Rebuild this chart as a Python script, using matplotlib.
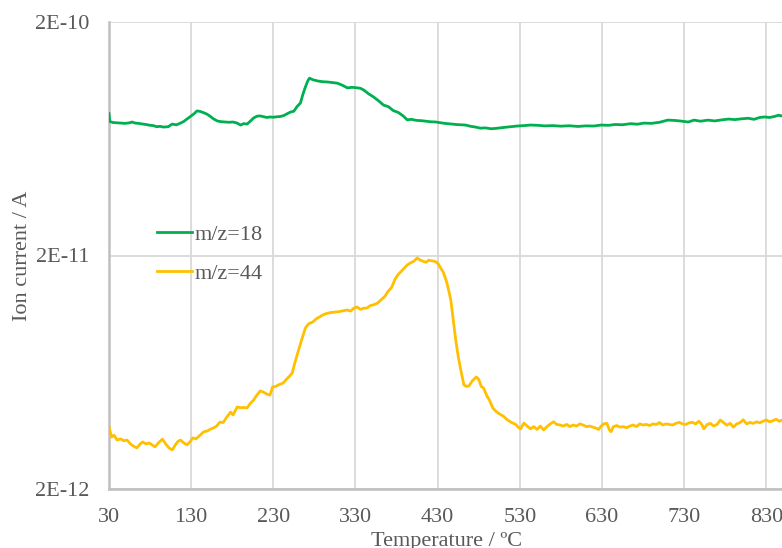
import numpy as np
import matplotlib
matplotlib.use("Agg")
import matplotlib.pyplot as plt
from matplotlib.ticker import FixedLocator, FixedFormatter, NullLocator

# ---- data: (temperature in ºC, ion current in units of 1e-11 A) ----
mz18 = [(30, 8.10), (31, 7.50), (35, 7.42), (40, 7.40), (45, 7.38), (50, 7.36), (55, 7.40), (58, 7.46),
        (62, 7.38), (66, 7.36), (71, 7.31), (75, 7.28), (80, 7.22), (84, 7.20), (88, 7.12), (92, 7.15),
        (96, 7.10), (102, 7.12), (107, 7.31), (112, 7.25), (117, 7.38), (121, 7.50), (125, 7.68),
        (130, 7.92), (134, 8.12), (137, 8.32), (141, 8.28), (145, 8.18), (149, 8.07), (153, 7.90),
        (157, 7.70), (162, 7.53), (167, 7.48), (172, 7.46), (176, 7.44), (181, 7.46), (186, 7.38),
        (190, 7.24), (194, 7.34), (198, 7.31), (202, 7.52), (206, 7.76), (210, 7.90), (214, 7.92),
        (218, 7.86), (222, 7.80), (226, 7.84), (230, 7.82), (235, 7.86), (239, 7.88), (243, 7.96),
        (247, 8.10), (251, 8.23), (255, 8.30), (259, 8.70), (263, 9.00), (266, 9.80), (269, 10.53),
        (272, 11.20), (274, 11.50), (278, 11.32), (284, 11.18), (290, 11.10), (296, 11.07), (302, 11.00),
        (308, 10.94), (314, 10.72), (320, 10.45), (326, 10.50), (332, 10.45), (336, 10.40), (340, 10.23),
        (346, 9.85), (352, 9.55), (358, 9.20), (364, 8.82), (370, 8.68), (376, 8.35), (382, 8.20),
        (388, 7.92), (393, 7.62), (398, 7.66), (404, 7.58), (410, 7.56), (416, 7.52), (421, 7.48),
        (428, 7.46), (434, 7.40), (440, 7.35), (446, 7.32), (452, 7.28), (458, 7.26), (464, 7.24),
        (470, 7.15), (476, 7.10), (482, 7.02), (488, 7.04), (495, 6.98), (500, 7.00), (507, 7.05),
        (515, 7.10), (527, 7.17), (535, 7.20), (543, 7.24), (552, 7.22), (560, 7.18), (570, 7.20),
        (580, 7.16), (590, 7.19), (601, 7.14), (610, 7.18), (620, 7.17), (629, 7.24), (638, 7.22),
        (646, 7.28), (655, 7.26), (665, 7.34), (673, 7.30), (681, 7.38), (690, 7.36), (700, 7.44),
        (710, 7.60), (718, 7.58), (726, 7.53), (735, 7.46), (742, 7.60), (750, 7.52), (759, 7.60),
        (767, 7.54), (776, 7.62), (784, 7.68), (792, 7.64), (800, 7.70), (808, 7.74), (815, 7.66),
        (822, 7.80), (828, 7.84), (834, 7.80), (840, 7.88), (845, 7.98), (848, 7.92), (850, 7.96)]

# (temperature in ºC, ion current in units of 1e-12 A)
mz44 = [(30, 3.70), (31, 3.58), (33, 3.34), (36, 3.40), (40, 3.24), (44, 3.28), (48, 3.22), (52, 3.24),
        (56, 3.12), (60, 3.05), (64, 3.00), (68, 3.12), (71, 3.18), (75, 3.12), (79, 3.15), (83, 3.08),
        (86, 3.03), (90, 3.15), (95, 3.27), (99, 3.12), (103, 3.00), (107, 2.94), (111, 3.10), (114, 3.20),
        (117, 3.24), (121, 3.15), (125, 3.09), (129, 3.20), (132, 3.31), (136, 3.28), (140, 3.38),
        (145, 3.51), (150, 3.55), (154, 3.62), (157, 3.65), (161, 3.72), (165, 3.87), (169, 3.85),
        (173, 4.05), (178, 4.27), (181, 4.15), (184, 4.35), (186, 4.49), (190, 4.46), (194, 4.47),
        (198, 4.45), (202, 4.65), (206, 4.81), (210, 5.05), (214, 5.26), (218, 5.20), (222, 5.10),
        (226, 5.05), (229, 5.47), (233, 5.50), (237, 5.60), (242, 5.69), (246, 5.90), (250, 6.10),
        (253, 6.28), (256, 6.90), (260, 7.72), (264, 8.60), (269, 9.78), (273, 10.20), (278, 10.38),
        (282, 10.70), (286, 10.90), (290, 11.12), (295, 11.30), (300, 11.40), (305, 11.45), (310, 11.50),
        (315, 11.60), (320, 11.69), (324, 11.55), (328, 11.90), (332, 12.04), (336, 11.75), (340, 11.90),
        (344, 11.92), (348, 12.20), (352, 12.30), (357, 12.52), (362, 13.00), (366, 13.40), (369, 13.96),
        (374, 14.60), (378, 15.80), (382, 16.60), (385, 17.00), (389, 17.60), (393, 18.22), (397, 18.60),
        (401, 18.90), (405, 19.52), (409, 19.10), (413, 18.85), (416, 18.70), (419, 19.10), (422, 19.00),
        (426, 18.90), (430, 18.58), (434, 17.60), (437, 16.90), (441, 15.40), (444, 13.90), (446, 12.90),
        (449, 10.60), (452, 8.69), (455, 7.40), (458, 6.50), (462, 5.58), (465, 5.50), (468, 5.52),
        (472, 5.80), (477, 6.04), (480, 5.90), (483, 5.50), (486, 5.41), (490, 5.00), (493, 4.81),
        (497, 4.45), (501, 4.30), (505, 4.20), (510, 4.10), (515, 3.95), (520, 3.85), (525, 3.78),
        (528, 3.68), (531, 3.62), (535, 3.83), (539, 3.72), (543, 3.62), (547, 3.70), (551, 3.60),
        (555, 3.72), (559, 3.58), (563, 3.70), (567, 3.80), (571, 3.88), (575, 3.78), (579, 3.76),
        (583, 3.72), (587, 3.78), (591, 3.70), (595, 3.76), (599, 3.72), (603, 3.80), (607, 3.76),
        (611, 3.70), (615, 3.72), (619, 3.68), (623, 3.64), (626, 3.60), (629, 3.72), (632, 3.80),
        (636, 3.82), (639, 3.58), (641, 3.52), (644, 3.70), (648, 3.74), (652, 3.68), (656, 3.70),
        (660, 3.66), (664, 3.72), (668, 3.76), (672, 3.70), (676, 3.80), (680, 3.76), (684, 3.78),
        (688, 3.74), (692, 3.80), (696, 3.78), (700, 3.85), (704, 3.76), (708, 3.80), (712, 3.78),
        (716, 3.76), (720, 3.82), (724, 3.86), (728, 3.80), (732, 3.78), (736, 3.84), (740, 3.86),
        (744, 3.80), (748, 3.90), (751, 3.80), (754, 3.62), (758, 3.78), (762, 3.82), (766, 3.72),
        (770, 3.78), (774, 3.95), (778, 3.85), (782, 3.75), (786, 3.82), (790, 3.68), (794, 3.80),
        (798, 3.85), (802, 3.96), (806, 3.80), (810, 3.86), (814, 3.82), (818, 3.88), (822, 3.84),
        (826, 3.90), (830, 3.95), (834, 3.88), (838, 3.92), (842, 3.98), (846, 3.90), (850, 3.96)]

series_labels = ["m/z=18", "m/z=44"]
x_ticks = [30, 130, 230, 330, 430, 530, 630, 730, 830]
y_ticks = [2e-12, 2e-11, 2e-10]
y_tick_labels = ["2E-12", "2E-11", "2E-10"]
x_label = "Temperature / ºC"
y_label = "Ion current / A"

t18 = np.array([p[0] for p in mz18], dtype=float)
v18 = np.array([p[1] for p in mz18]) * 1e-11
t44 = np.array([p[0] for p in mz44], dtype=float)
v44 = np.array([p[1] for p in mz44]) * 1e-12

# ---- style ----
plt.rcParams['font.family'] = ['Liberation Serif', 'DejaVu Serif']
txt = '#595959'
green = '#00B050'
yellow = '#FFC000'

fig = plt.figure(figsize=(7.82, 5.48), dpi=100)
ax = fig.add_axes([109/782, 1 - 489/548, 1 - 109/782 + 0.002, (489 - 22)/548])

ax.plot(t18, v18, color=green, lw=2.0, label=series_labels[0], zorder=3)
ax.plot(t44, v44, color=yellow, lw=2.0, label=series_labels[1], zorder=3)

ax.set_yscale('log')
ax.set_ylim(2e-12, 2e-10)
ax.set_xlim(30, 851)
ax.yaxis.set_major_locator(FixedLocator(y_ticks))
ax.yaxis.set_major_formatter(FixedFormatter(y_tick_labels))
ax.yaxis.set_minor_locator(NullLocator())
ax.xaxis.set_major_locator(FixedLocator(x_ticks))
ax.xaxis.set_minor_locator(NullLocator())

ax.grid(True, color='#D9D9D9', lw=1.3, zorder=0)
ax.set_axisbelow(True)
for s in ['top', 'right']:
    ax.spines[s].set_visible(False)
for s in ['left', 'bottom']:
    ax.spines[s].set_color('#BFBFBF')
    ax.spines[s].set_linewidth(1.8)
ax.tick_params(axis='both', length=0, labelsize=16, labelcolor=txt)
ax.tick_params(axis='y', pad=14)
ax.tick_params(axis='x', pad=14)

ax.set_xlabel(x_label, fontsize=16, color=txt, labelpad=3)
ax.set_ylabel(y_label, fontsize=16, color=txt, labelpad=2)

leg = ax.legend(loc='upper left', bbox_to_anchor=(150/782, 1 - 218/548), bbox_transform=fig.transFigure,
                frameon=False, fontsize=16, handlelength=1.6, handletextpad=0.1,
                labelspacing=0.8, borderaxespad=0, borderpad=0.3)
for t in leg.get_texts():
    t.set_color(txt)

fig.savefig('out.png', dpi=100)
